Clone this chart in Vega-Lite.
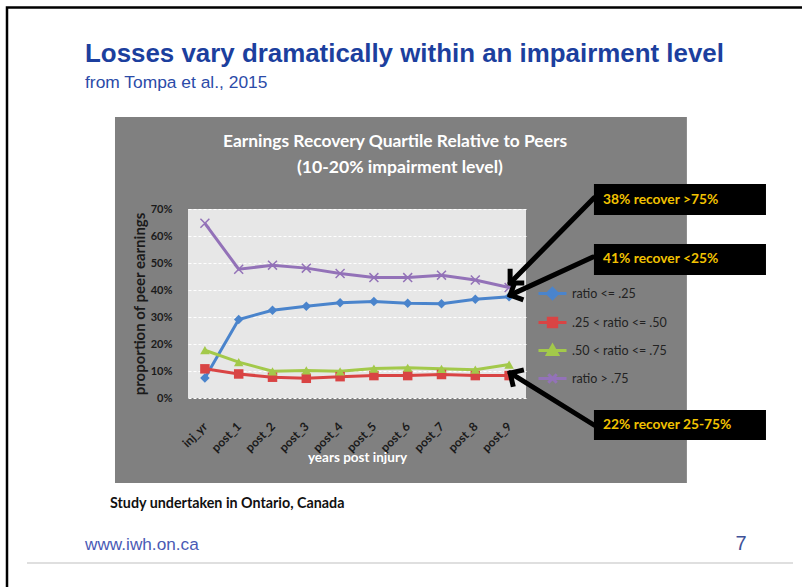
{
  "$schema": "https://vega.github.io/schema/vega-lite/v6.json",
  "width": 338,
  "height": 189,
  "autosize": {"type": "none"},
  "padding": {"left": 188, "top": 209, "right": 276, "bottom": 189},
  "background": "#808080",
  "config": {"view": {"fill": "#e7e7e7", "stroke": null}, "font": "Lato"},
  "data": {
    "values": [
      {"year": 0, "series": "ratio <= .25", "value": 0.074},
      {"year": 1, "series": "ratio <= .25", "value": 0.291},
      {"year": 2, "series": "ratio <= .25", "value": 0.325},
      {"year": 3, "series": "ratio <= .25", "value": 0.340},
      {"year": 4, "series": "ratio <= .25", "value": 0.353},
      {"year": 5, "series": "ratio <= .25", "value": 0.357},
      {"year": 6, "series": "ratio <= .25", "value": 0.351},
      {"year": 7, "series": "ratio <= .25", "value": 0.349},
      {"year": 8, "series": "ratio <= .25", "value": 0.366},
      {"year": 9, "series": "ratio <= .25", "value": 0.375},
      {"year": 0, "series": ".25 < ratio <= .50", "value": 0.108},
      {"year": 1, "series": ".25 < ratio <= .50", "value": 0.089},
      {"year": 2, "series": ".25 < ratio <= .50", "value": 0.077},
      {"year": 3, "series": ".25 < ratio <= .50", "value": 0.073},
      {"year": 4, "series": ".25 < ratio <= .50", "value": 0.079},
      {"year": 5, "series": ".25 < ratio <= .50", "value": 0.083},
      {"year": 6, "series": ".25 < ratio <= .50", "value": 0.083},
      {"year": 7, "series": ".25 < ratio <= .50", "value": 0.087},
      {"year": 8, "series": ".25 < ratio <= .50", "value": 0.083},
      {"year": 9, "series": ".25 < ratio <= .50", "value": 0.083},
      {"year": 0, "series": ".50 < ratio <= .75", "value": 0.177},
      {"year": 1, "series": ".50 < ratio <= .75", "value": 0.133},
      {"year": 2, "series": ".50 < ratio <= .75", "value": 0.099},
      {"year": 3, "series": ".50 < ratio <= .75", "value": 0.102},
      {"year": 4, "series": ".50 < ratio <= .75", "value": 0.099},
      {"year": 5, "series": ".50 < ratio <= .75", "value": 0.109},
      {"year": 6, "series": ".50 < ratio <= .75", "value": 0.112},
      {"year": 7, "series": ".50 < ratio <= .75", "value": 0.108},
      {"year": 8, "series": ".50 < ratio <= .75", "value": 0.105},
      {"year": 9, "series": ".50 < ratio <= .75", "value": 0.124},
      {"year": 0, "series": "ratio > .75", "value": 0.647},
      {"year": 1, "series": "ratio > .75", "value": 0.477},
      {"year": 2, "series": "ratio > .75", "value": 0.492},
      {"year": 3, "series": "ratio > .75", "value": 0.481},
      {"year": 4, "series": "ratio > .75", "value": 0.461},
      {"year": 5, "series": "ratio > .75", "value": 0.446},
      {"year": 6, "series": "ratio > .75", "value": 0.446},
      {"year": 7, "series": "ratio > .75", "value": 0.455},
      {"year": 8, "series": "ratio > .75", "value": 0.437},
      {"year": 9, "series": "ratio > .75", "value": 0.409}
    ]
  },
  "layer": [
    {
      "mark": {"type": "line", "strokeWidth": 3},
      "encoding": {
        "x": {
          "field": "year", "type": "quantitative",
          "scale": {"domain": [-0.5, 9.5], "nice": false, "zero": false},
          "axis": {
            "values": [0, 1, 2, 3, 4, 5, 6, 7, 8, 9], "tickCount": 10,
            "labelExpr": "datum.value === 0 ? 'inj_yr' : 'post_' + datum.value",
            "labelAngle": -45, "labelAlign": "right", "labelBaseline": "middle",
            "labelPadding": 26, "labelFlush": false, "labelOverlap": false,
            "labelFont": "Lato", "labelFontWeight": "bold", "labelFontSize": 12, "labelColor": "#1a1a1a",
            "grid": false, "ticks": false, "domain": false,
            "title": "years post injury", "titleColor": "white", "titleFont": "Lato",
            "titleFontWeight": "bold", "titleFontSize": 13.5, "titlePadding": -3
          }
        },
        "y": {
          "field": "value", "type": "quantitative",
          "scale": {"domain": [0, 0.7], "nice": false, "zero": false},
          "axis": {
            "values": [0, 0.1, 0.2, 0.3, 0.4, 0.5, 0.6, 0.7], "tickCount": 8,
            "format": ".0%", "labelFlush": false, "labelOverlap": false,
            "grid": true, "gridColor": "white", "gridDash": [3, 2], "gridWidth": 1,
            "ticks": false, "domain": false, "labelPadding": 16,
            "labelFont": "Lato", "labelFontWeight": "bold", "labelFontSize": 11, "labelColor": "#1a1a1a",
            "title": "proportion of peer earnings", "titleFont": "Lato", "titleFontWeight": "bold",
            "titleFontSize": 15, "titleColor": "#1a1a1a", "titlePadding": 3
          }
        },
        "color": {
          "field": "series", "type": "nominal",
          "scale": {
            "domain": ["ratio <= .25", ".25 < ratio <= .50", ".50 < ratio <= .75", "ratio > .75"],
            "range": ["#4a84cc", "#d94444", "#a3c94a", "#9372b8"]
          },
          "legend": {
            "orient": "none", "legendX": 349, "legendY": 69, "title": null, "padding": 0,
            "symbolSize": 784, "rowPadding": 2, "labelOffset": 4, "labelLimit": 0,
            "labelFont": "Lato", "labelFontSize": 12.5, "labelColor": "#222222",
            "encode": {
              "symbols": {
                "update": {
                  "shape": {"signal": "datum.value === 'ratio <= .25' ? 'M-1,0H1M0,-0.36L0.36,0L0,0.36L-0.36,0Z' : datum.value === '.25 < ratio <= .50' ? 'M-1,0H1M-0.3,-0.3H0.3V0.3H-0.3Z' : datum.value === '.50 < ratio <= .75' ? 'M-1,0H1M0,-0.36L0.36,0.28H-0.36Z' : 'M-1,0H1M-0.3,-0.3L0.3,0.3M-0.3,0.3L0.3,-0.3'"},
                  "fill": {"signal": "scale('color', datum.value)"},
                  "stroke": {"signal": "scale('color', datum.value)"},
                  "strokeWidth": {"value": 3},
                  "opacity": {"value": 1},
                  "fillOpacity": {"value": 1}
                }
              }
            }
          }
        }
      }
    },
    {
      "transform": [{"filter": "datum.series !== 'ratio > .75'"}],
      "mark": {"type": "point", "filled": true, "opacity": 1},
      "encoding": {
        "x": {"field": "year", "type": "quantitative"},
        "y": {"field": "value", "type": "quantitative"},
        "color": {"field": "series", "type": "nominal"},
        "shape": {
          "field": "series", "type": "nominal", "legend": null,
          "scale": {"domain": ["ratio <= .25", ".25 < ratio <= .50", ".50 < ratio <= .75"], "range": ["diamond", "square", "triangle-up"]}
        },
        "size": {"value": 90}
      }
    },
    {
      "transform": [{"filter": "datum.series === 'ratio > .75'"}],
      "mark": {"type": "point", "filled": false, "opacity": 1, "strokeWidth": 1.5, "shape": "M-1,-1L1,1M-1,1L1,-1", "size": 80},
      "encoding": {
        "x": {"field": "year", "type": "quantitative"},
        "y": {"field": "value", "type": "quantitative"},
        "color": {"field": "series", "type": "nominal"}
      }
    },
    {
      "data": {"values": [{}]},
      "mark": {"type": "rect", "fill": "white"},
      "encoding": {"x": {"datum": -10}, "x2": {"datum": 30}, "y": {"datum": 1.0407}, "y2": {"datum": 2.0}}
    },
    {
      "data": {"values": [{}]},
      "mark": {"type": "rect", "fill": "white"},
      "encoding": {"x": {"datum": -10}, "x2": {"datum": 30}, "y": {"datum": -0.3148}, "y2": {"datum": -1.5}}
    },
    {
      "data": {"values": [{}]},
      "mark": {"type": "rect", "fill": "white"},
      "encoding": {"x": {"datum": -10}, "x2": {"datum": -2.66}, "y": {"datum": -0.3148}, "y2": {"datum": 1.0407}}
    },
    {
      "data": {"values": [{}]},
      "mark": {"type": "rect", "fill": "white"},
      "encoding": {"x": {"datum": 14.26}, "x2": {"datum": 30}, "y": {"datum": -0.3148}, "y2": {"datum": 1.0407}}
    },
    {
      "data": {"values": [{}]},
      "mark": {"type": "rect", "filled": false, "stroke": "black", "strokeWidth": 2.5},
      "encoding": {"x": {"datum": -5.855}, "x2": {"datum": 30}, "y": {"datum": 1.446}, "y2": {"datum": -1.5}}
    },
    {
      "data": {"values": [{}]},
      "mark": {"type": "rule", "stroke": "#d4d4d4", "strokeWidth": 1.5},
      "encoding": {"x": {"datum": -5.263}, "x2": {"datum": 17.4}, "y": {"datum": -0.611}}
    },
    {
      "data": {"values": [{}]},
      "mark": {"type": "text", "text": "Losses vary dramatically within an impairment level", "font": "Liberation Sans", "fontWeight": "bold", "fontSize": 25.9, "color": "#1c3f9e", "align": "left", "baseline": "alphabetic"},
      "encoding": {"x": {"datum": -3.547}, "y": {"datum": 1.2444}}
    },
    {
      "data": {"values": [{}]},
      "mark": {"type": "text", "text": "from Tompa et al., 2015", "font": "Liberation Sans", "fontSize": 17.4, "color": "#2b4ba8", "align": "left", "baseline": "alphabetic"},
      "encoding": {"x": {"datum": -3.547}, "y": {"datum": 1.1481}}
    },
    {
      "data": {"values": [{}]},
      "mark": {"type": "text", "text": "Earnings Recovery  Quartile Relative to Peers", "font": "Lato", "fontWeight": "bold", "fontSize": 17.4, "color": "white", "align": "center", "baseline": "alphabetic"},
      "encoding": {"x": {"datum": 5.624}, "y": {"datum": 0.9296}}
    },
    {
      "data": {"values": [{}]},
      "mark": {"type": "text", "text": "(10-20% impairment level)", "font": "Lato", "fontWeight": "bold", "fontSize": 17.6, "color": "white", "align": "center", "baseline": "alphabetic"},
      "encoding": {"x": {"datum": 5.77}, "y": {"datum": 0.8333}}
    },
    {
      "data": {"values": [{}]},
      "mark": {"type": "text", "text": "Study undertaken in Ontario, Canada", "font": "Lato", "fontWeight": "bold", "fontSize": 14.3, "color": "#111111", "align": "left", "baseline": "middle"},
      "encoding": {"x": {"datum": -2.808}, "y": {"datum": -0.3926}}
    },
    {
      "data": {"values": [{}]},
      "mark": {"type": "text", "text": "www.iwh.on.ca", "font": "Liberation Sans", "fontSize": 17.2, "color": "#4a5ab5", "align": "left", "baseline": "alphabetic"},
      "encoding": {"x": {"datum": -3.547}, "y": {"datum": -0.563}}
    },
    {
      "data": {"values": [{}]},
      "mark": {"type": "text", "text": "7", "font": "Liberation Sans", "fontSize": 20, "color": "#3f5298", "align": "center", "baseline": "alphabetic"},
      "encoding": {"x": {"datum": 15.86}, "y": {"datum": -0.563}}
    },
    {
      "data": {"values": [{}]},
      "mark": {"type": "rule", "stroke": "black", "strokeWidth": 5, "strokeCap": "round"},
      "encoding": {"x": {"datum": 11.51}, "y": {"datum": 0.741}, "x2": {"datum": 9.03}, "y2": {"datum": 0.426}}
    },
    {
      "data": {"values": [{}]},
      "mark": {"type": "rule", "stroke": "black", "strokeWidth": 5, "strokeCap": "round"},
      "encoding": {"x": {"datum": 11.48}, "y": {"datum": 0.522}, "x2": {"datum": 9.03}, "y2": {"datum": 0.381}}
    },
    {
      "data": {"values": [{}]},
      "mark": {"type": "rule", "stroke": "black", "strokeWidth": 5, "strokeCap": "round"},
      "encoding": {"x": {"datum": 11.51}, "y": {"datum": -0.1}, "x2": {"datum": 9.03}, "y2": {"datum": 0.0926}}
    },
    {
      "data": {"values": [{}]},
      "mark": {"type": "point", "shape": "M-1,1L0,0L1,1", "filled": false, "stroke": "black", "strokeWidth": 5, "size": 400, "opacity": 1, "angle": 225, "strokeJoin": "miter"},
      "encoding": {"x": {"datum": 9.03}, "y": {"datum": 0.426}}
    },
    {
      "data": {"values": [{}]},
      "mark": {"type": "point", "shape": "M-1,1L0,0L1,1", "filled": false, "stroke": "black", "strokeWidth": 5, "size": 400, "opacity": 1, "angle": 245, "strokeJoin": "miter"},
      "encoding": {"x": {"datum": 9.03}, "y": {"datum": 0.381}}
    },
    {
      "data": {"values": [{}]},
      "mark": {"type": "point", "shape": "M-1,1L0,0L1,1", "filled": false, "stroke": "black", "strokeWidth": 5, "size": 400, "opacity": 1, "angle": 302, "strokeJoin": "miter"},
      "encoding": {"x": {"datum": 9.03}, "y": {"datum": 0.0926}}
    },
    {
      "data": {"values": [{}]},
      "mark": {"type": "rect", "fill": "black"},
      "encoding": {"x": {"datum": 11.51}, "x2": {"datum": 16.6}, "y": {"datum": 0.793}, "y2": {"datum": 0.678}}
    },
    {
      "data": {"values": [{}]},
      "mark": {"type": "rect", "fill": "black"},
      "encoding": {"x": {"datum": 11.51}, "x2": {"datum": 16.6}, "y": {"datum": 0.57}, "y2": {"datum": 0.456}}
    },
    {
      "data": {"values": [{}]},
      "mark": {"type": "rect", "fill": "black"},
      "encoding": {"x": {"datum": 11.51}, "x2": {"datum": 16.6}, "y": {"datum": -0.0444}, "y2": {"datum": -0.1556}}
    },
    {
      "data": {"values": [{}]},
      "mark": {"type": "text", "text": "38% recover >75%", "font": "Lato", "fontWeight": "bold", "fontSize": 13.8, "color": "#f2c200", "align": "left", "baseline": "middle"},
      "encoding": {"x": {"datum": 11.78}, "y": {"datum": 0.735}}
    },
    {
      "data": {"values": [{}]},
      "mark": {"type": "text", "text": "41% recover <25%", "font": "Lato", "fontWeight": "bold", "fontSize": 13.8, "color": "#f2c200", "align": "left", "baseline": "middle"},
      "encoding": {"x": {"datum": 11.78}, "y": {"datum": 0.513}}
    },
    {
      "data": {"values": [{}]},
      "mark": {"type": "text", "text": "22% recover 25-75%", "font": "Lato", "fontWeight": "bold", "fontSize": 13.8, "color": "#f2c200", "align": "left", "baseline": "middle"},
      "encoding": {"x": {"datum": 11.78}, "y": {"datum": -0.1}}
    }
  ]
}
